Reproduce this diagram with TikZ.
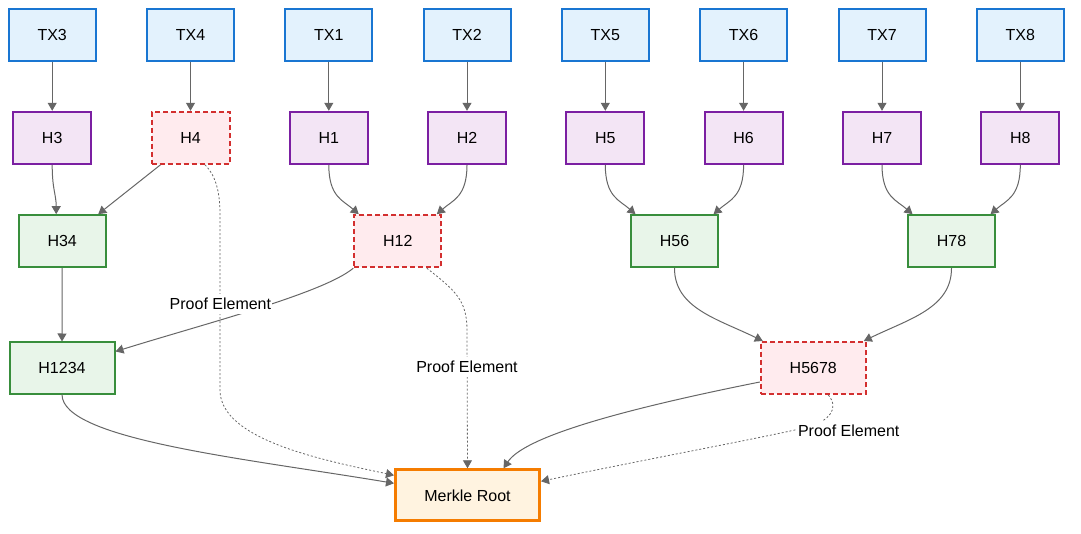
\documentclass[tikz,border=0pt]{standalone}
\usepackage{fontspec}
\setmainfont{Liberation Sans}
\usetikzlibrary{arrows.meta,calc}
\definecolor{txfill}{HTML}{E3F2FD}
\definecolor{txdraw}{HTML}{1976D2}
\definecolor{leaffill}{HTML}{F3E5F5}
\definecolor{leafdraw}{HTML}{7B1FA2}
\definecolor{innerfill}{HTML}{E8F5E9}
\definecolor{innerdraw}{HTML}{388E3C}
\definecolor{prooffill}{HTML}{FFEBEE}
\definecolor{proofdraw}{HTML}{D32F2F}
\definecolor{rootfill}{HTML}{FFF3E0}
\definecolor{rootdraw}{HTML}{F57C00}
\definecolor{linkgray}{HTML}{666666}
\begin{document}
\begin{tikzpicture}[x=1pt,y=-1pt,font=\fontsize{16}{19}\selectfont,
  box/.style={draw,line width=2pt,inner sep=0pt,minimum height=52pt,text=black},
  txbox/.style={box,draw=txdraw,fill=txfill,minimum width=87pt},
  leafbox/.style={box,draw=leafdraw,fill=leaffill,minimum width=78pt},
  innerbox/.style={box,draw=innerdraw,fill=innerfill,minimum width=87pt},
  widebox/.style={box,minimum width=105pt,minimum height=51pt},
  proofbox/.style={box,draw=proofdraw,fill=prooffill,dash pattern=on 5pt off 3pt},
  rootbox/.style={box,draw=rootdraw,fill=rootfill,line width=3pt,minimum width=144pt,minimum height=51pt},
  link/.style={draw=linkgray,line width=1pt,-{Triangle[length=8pt,width=9pt]}},
  plink/.style={link,line width=0.8pt,dash pattern=on 2pt off 2pt},
  plabel/.style={fill=white,inner xsep=1pt,inner ysep=4pt,text=black}]
\useasboundingbox (0,0) rectangle (1081,534);
% transactions
\node[txbox] (TX3) at (52.2,34.7) {TX3};
\node[txbox] (TX4) at (190.5,34.7) {TX4};
\node[txbox] (TX1) at (328.8,34.7) {TX1};
\node[txbox] (TX2) at (467,34.7) {TX2};
\node[txbox] (TX5) at (605.3,34.7) {TX5};
\node[txbox] (TX6) at (743.6,34.7) {TX6};
\node[txbox] (TX7) at (882,34.7) {TX7};
\node[txbox] (TX8) at (1020.3,34.7) {TX8};
% leaf hashes
\node[leafbox] (H3) at (52.2,137.8) {H3};
\node[leafbox,proofbox] (H4) at (190.5,137.8) {H4};
\node[leafbox] (H1) at (328.8,137.8) {H1};
\node[leafbox] (H2) at (467,137.8) {H2};
\node[leafbox] (H5) at (605.3,137.8) {H5};
\node[leafbox] (H6) at (743.6,137.8) {H6};
\node[leafbox] (H7) at (882,137.8) {H7};
\node[leafbox] (H8) at (1020.3,137.8) {H8};
% level 2
\node[innerbox] (H34) at (62.2,241.2) {H34};
\node[innerbox,proofbox] (H12) at (397.8,241.2) {H12};
\node[innerbox] (H56) at (674.5,241.2) {H56};
\node[innerbox] (H78) at (951.5,241.2) {H78};
% level 3
\node[innerbox,widebox] (H1234) at (62,368) {H1234};
\node[innerbox,widebox,proofbox] (H5678) at (813.3,368) {H5678};
% root
\node[rootbox] (Root) at (467.5,495.3) {Merkle Root};
% TX -> H
\foreach \i in {1,...,8} \draw[link] (TX\i.south) -- (H\i.north);
% H -> level 2
\draw[link] (H3.south) .. controls +(0,25) and +(0,-20) .. ($(H34.north)+(-6,0)$);
\draw[link] ($(H4.south)+(-30,0)$) -- ($(H34.north)+(36,0)$);
\draw[link] (H1.south) .. controls +(0,32) and +(-16,-14) .. ($(H12.north)+(-39,0)$);
\draw[link] (H2.south) .. controls +(0,32) and +(16,-14) .. ($(H12.north)+(39,0)$);
\draw[link] (H5.south) .. controls +(0,32) and +(-16,-14) .. ($(H56.north)+(-39,0)$);
\draw[link] (H6.south) .. controls +(0,32) and +(16,-14) .. ($(H56.north)+(39,0)$);
\draw[link] (H7.south) .. controls +(0,32) and +(-16,-14) .. ($(H78.north)+(-39,0)$);
\draw[link] (H8.south) .. controls +(0,32) and +(16,-14) .. ($(H78.north)+(39,0)$);
% level 2 -> level 3
\draw[link] (H34.south) -- (H1234.north);
\draw[link] (H12.south west) .. controls +(-30,25) and +(90,-28) .. ($(H1234.north east)+(0,10)$);
\draw[link] (H56.south) .. controls +(0,40) and +(-45,-22) .. ($(H5678.north west)+(3,0)$);
\draw[link] (H78.south) .. controls +(0,40) and +(45,-22) .. ($(H5678.north east)+(-3,0)$);
% level 3 -> root
\draw[link] (H1234.south) .. controls +(0,45) and +(-150,-25) .. ($(Root.west)+(0,-12)$);
\draw[link] ($(H5678.west)+(0,14)$) .. controls +(-150,30) and +(20,-30) .. ($(Root.north)+(36,0)$);
% proof paths
\draw[plink] ($(H4.south)+(14.5,0)$) .. controls +(12,12) and +(0,-20) .. (220,215) -- (220,390) .. controls +(0,50) and +(-70,-15) .. ($(Root.west)+(0,-20)$);
\draw[plink] ($(H12.south)+(29,0)$) .. controls +(28,22) and +(0,-30) .. (467,330) -- (Root.north);
\draw[plink] ($(H5678.south)+(15,0)$) .. controls +(12,14) and +(15,-5) .. (812,426) .. controls +(-40,10) and +(120,-25) .. ($(Root.east)+(0,-14)$);
% labels
\node[plabel] (L1) at (220.4,304) {Proof Element};
\node[plabel] (L2) at (467,367) {Proof Element};
\node[plabel] (L3) at (848.7,431) {Proof Element};
\end{tikzpicture}
\end{document}
